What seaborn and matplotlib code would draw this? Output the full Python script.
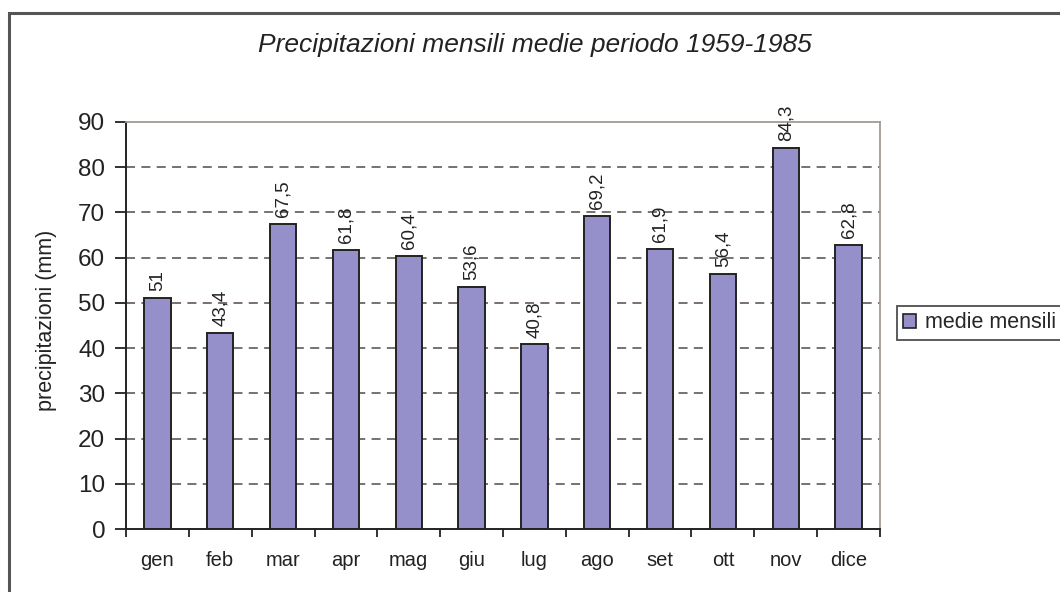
import matplotlib
matplotlib.use("Agg")
import matplotlib.pyplot as plt
import seaborn as sns
import pandas as pd
from matplotlib.patches import Rectangle
from matplotlib.ticker import FixedLocator

months = ["gen", "feb", "mar", "apr", "mag", "giu", "lug", "ago", "set", "ott", "nov", "dice"]
values = [51, 43.4, 67.5, 61.8, 60.4, 53.6, 40.8, 69.2, 61.9, 56.4, 84.3, 62.8]
title = "Precipitazioni mensili medie periodo 1959-1985"
ylabel = "precipitazioni (mm)"
series_name = "medie mensili"
yticks = [0, 10, 20, 30, 40, 50, 60, 70, 80, 90]

sns.set_theme(style="white")
plt.rcParams["font.family"] = ["Liberation Sans", "DejaVu Sans"]

df = pd.DataFrame({"mese": months, "mm": values})

W, H = 1060, 592
fig = plt.figure(figsize=(W / 100, H / 100), dpi=100)
ax = fig.add_axes([126 / W, 1 - 529 / H, (880 - 126) / W, (529 - 122) / H])

bar_color = "#9590c9"
sns.barplot(data=df, x="mese", y="mm", color=bar_color, edgecolor="#222222",
            linewidth=1.4, width=0.42, saturation=1, ax=ax)

ax.set_ylim(0, 90)
ax.set_xlim(-0.5, len(months) - 0.5)
ax.set_yticks(yticks)
ax.set_yticklabels([str(t) for t in yticks])

# dashed grid lines
for t in yticks[1:-1]:
    ax.axhline(t, color="#6f6660", linestyle=(0, (5, 3.5)), linewidth=1.3, zorder=0)

# spines
for s in ["left", "bottom"]:
    ax.spines[s].set_color("#222222")
    ax.spines[s].set_linewidth(1.4)
for s in ["top", "right"]:
    ax.spines[s].set_color("#a39a94")
    ax.spines[s].set_linewidth(1.3)

ax.tick_params(axis="y", which="major", direction="out", length=8, width=1.3,
               color="#222222", labelsize=17.5, labelcolor="#222222", pad=7, left=True)
ax.tick_params(axis="x", which="major", length=0, labelsize=14.5,
               labelcolor="#222222", pad=16)
ax.xaxis.set_minor_locator(FixedLocator([i - 0.5 for i in range(len(months) + 1)]))
ax.tick_params(axis="x", which="minor", direction="out", length=6, width=1.3,
               color="#222222", bottom=True)

ax.set_xlabel("")
ax.set_ylabel(ylabel, fontsize=15.5, color="#222222")
ax.yaxis.set_label_coords(-0.0915, 0.513)

labels = [("%g" % v).replace(".", ",") for v in values]
ax.bar_label(ax.containers[0], labels=labels, rotation=90, padding=5,
             fontsize=13.5, color="#222222")

fig.text(535 / W, 1 - 45 / H, title, ha="center", va="center",
         fontsize=19, style="italic", color="#222222")

leg = fig.legend(handles=[Rectangle((0, 0), 1, 1, facecolor=bar_color,
                                    edgecolor="#222222", linewidth=1.2)],
                 labels=[series_name], loc="center left",
                 bbox_to_anchor=(897 / W, 1 - 323 / H), fontsize=15.5,
                 frameon=True, fancybox=False, edgecolor="#222222",
                 handlelength=0.6, handleheight=0.6, handletextpad=0.4,
                 borderpad=0.3, borderaxespad=0)
leg.get_frame().set_linewidth(1.3)

# outer chart border
fig.patches.append(Rectangle((9 / W, -0.1), 1.2, 1 - 13 / H + 0.1,
                             transform=fig.transFigure, fill=False,
                             edgecolor="#555555", linewidth=2.2))

fig.savefig("out.png", dpi=100)
